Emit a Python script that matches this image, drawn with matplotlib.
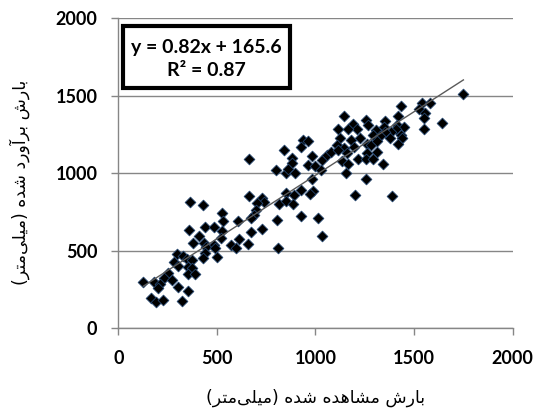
import numpy as np
import matplotlib
matplotlib.use("Agg")
import matplotlib.pyplot as plt
from matplotlib.patches import Rectangle

observed_mm = [
    364, 431, 524, 529, 607, 360, 440, 487, 527, 409, 521, 377, 436, 484, 443,
    490, 572, 440, 299, 327, 428, 499, 282, 304, 347, 375, 352, 375, 352, 389,
    251, 233, 271, 127, 183, 211, 203, 301, 355, 166, 190, 228, 325,
    938, 963, 926, 840, 664, 882, 879, 981, 960, 997, 1031, 1057, 1079, 800, 850,
    862, 896, 1028, 981, 926, 986, 972, 849, 892, 663, 730, 740, 702, 816, 850,
    887, 697, 690, 671, 806, 926, 1014, 671, 727, 612, 659, 597, 811, 1031,
    1434, 1542, 1581, 1525, 1555, 1549, 1552, 1417, 1145, 1256, 1265, 1352, 1349,
    1412, 1450, 1189, 1209, 1116, 1163, 1305, 1408, 1434, 1383, 1352, 1290, 1327,
    1440, 1124, 1226, 1180, 1378, 1260, 1281, 1107, 1146, 1197, 1310, 1116, 1158,
    1260, 1310, 1133, 1163, 1217, 1255, 1293, 1344, 1153, 1256, 1200, 1389,
    1750, 1643, 1420,
]
estimated_mm = [
    810, 793, 743, 691, 693, 631, 653, 649, 627, 595, 578, 550, 546, 535, 524,
    517, 535, 481, 475, 464, 453, 456, 427, 401, 443, 438, 395, 385, 346, 346,
    352, 324, 309, 294, 294, 282, 260, 264, 238, 191, 166, 178, 174,
    1216, 1207, 1168, 1151, 1089, 1100, 1065, 1108, 1050, 1044, 1087, 1115, 1136,
    1018, 997, 1029, 1003, 1018, 964, 889, 885, 863, 872, 857, 852, 840, 814, 807,
    803, 820, 799, 760, 728, 707, 700, 722, 707, 617, 642, 573, 541, 514, 517, 593,
    1432, 1454, 1454, 1416, 1390, 1355, 1287, 1368, 1368, 1340, 1308, 1334, 1297,
    1308, 1297, 1319, 1287, 1287, 1282, 1280, 1287, 1248, 1265, 1265, 1243, 1239,
    1226, 1226, 1226, 1216, 1226, 1184, 1179, 1179, 1164, 1168, 1205, 1147, 1126,
    1129, 1136, 1076, 1055, 1089, 1093, 1093, 1061, 997, 960, 861, 850,
    1508, 1325, 1190,
]
slope = 0.82
intercept = 165.6
r_squared = 0.87
ticks = [0, 500, 1000, 1500, 2000]

x_label = "بارش مشاهده شده (میلی\u200cمتر)"
y_label = "بارش برآورد شده (میلی\u200cمتر)"

# matplotlib does no arabic shaping, so pick the contextual forms by hand
# letter: (isolated, final, initial, medial); right-joining letters have no initial/medial
FORMS = {
    "\u0627": ("\uFE8D", "\uFE8E", None, None),        # alef
    "\u0622": ("\uFE81", "\uFE82", None, None),        # alef madda
    "\u0628": ("\uFE8F", "\uFE90", "\uFE91", "\uFE92"),  # beh
    "\u062A": ("\uFE95", "\uFE96", "\uFE97", "\uFE98"),  # teh
    "\u062F": ("\uFEA9", "\uFEAA", None, None),        # dal
    "\u0631": ("\uFEAD", "\uFEAE", None, None),        # reh
    "\u0634": ("\uFEB5", "\uFEB6", "\uFEB7", "\uFEB8"),  # sheen
    "\u0644": ("\uFEDD", "\uFEDE", "\uFEDF", "\uFEE0"),  # lam
    "\u0645": ("\uFEE1", "\uFEE2", "\uFEE3", "\uFEE4"),  # meem
    "\u0647": ("\uFEE9", "\uFEEA", "\uFEEB", "\uFEEC"),  # heh
    "\u0648": ("\uFEED", "\uFEEE", None, None),        # waw
    "\u06CC": ("\uFBFC", "\uFBFD", "\uFBFE", "\uFBFF"),  # farsi yeh
}


def shape_rtl(text):
    out = []
    for i, ch in enumerate(text):
        if ch not in FORMS:
            if ch != "\u200c":
                out.append(ch)
            continue
        iso, fin, ini, med = FORMS[ch]
        prev = text[i - 1] if i > 0 else ""
        nxt = text[i + 1] if i + 1 < len(text) else ""
        join_prev = prev in FORMS and FORMS[prev][2] is not None
        join_next = ini is not None and nxt in FORMS
        if join_prev and join_next:
            out.append(med)
        elif join_prev:
            out.append(fin)
        elif join_next:
            out.append(ini)
        else:
            out.append(iso)
    mirror = {"(": ")", ")": "("}
    return "".join(mirror.get(c, c) for c in reversed(out))


grey = "#868686"
fig = plt.figure(figsize=(5.36, 4.16), dpi=100)
ax = fig.add_axes([0.2207, 0.2115, 0.7358, 0.7452])

ax.scatter(observed_mm, estimated_mm, marker="D", s=30, facecolor="black",
           edgecolor="#24456e", linewidth=0.6, zorder=3)

fit_x = np.array([min(observed_mm), max(observed_mm)])
ax.plot(fit_x, slope * fit_x + intercept, color="#5a5a5a", lw=1.0, zorder=4)

ax.set_xlim(0, 2000)
ax.set_ylim(0, 2000)
ax.set_xticks(ticks)
ax.set_yticks(ticks)
ax.yaxis.grid(True, color=grey, lw=1.0)
ax.set_axisbelow(True)
for side in ("top", "right"):
    ax.spines[side].set_visible(False)
for side in ("left", "bottom"):
    ax.spines[side].set_color(grey)
    ax.spines[side].set_linewidth(1.0)
ax.tick_params(axis="both", direction="out", length=5, width=1.0, color=grey)
ax.tick_params(axis="x", pad=11)
ax.tick_params(axis="y", pad=10)
for lab in ax.get_xticklabels() + ax.get_yticklabels():
    lab.set_fontfamily("Lato")
    lab.set_fontweight("bold")
    lab.set_fontsize(13)

ax.set_xlabel(shape_rtl(x_label), fontfamily="DejaVu Sans", fontsize=12.5)
ax.set_ylabel(shape_rtl(y_label), fontfamily="DejaVu Sans", fontsize=12.5)
ax.xaxis.set_label_coords(0.5, -0.195)
ax.yaxis.set_label_coords(-0.225, 0.47)

# equation box
ax.add_patch(Rectangle((0.013, 0.773), 0.422, 0.201, transform=ax.transAxes,
                       fill=True, facecolor="white", edgecolor="black", lw=3,
                       zorder=5, clip_on=False))
ax.text(0.224, 0.905, f"y = {slope}x + {intercept}", transform=ax.transAxes,
        ha="center", va="center", fontfamily="Lato", fontweight="bold",
        fontsize=14, zorder=6)
ax.text(0.224, 0.830, f"R\u00b2 = {r_squared}", transform=ax.transAxes,
        ha="center", va="center", fontfamily="Lato", fontweight="bold",
        fontsize=14, zorder=6)

fig.savefig("out.png", dpi=100)
